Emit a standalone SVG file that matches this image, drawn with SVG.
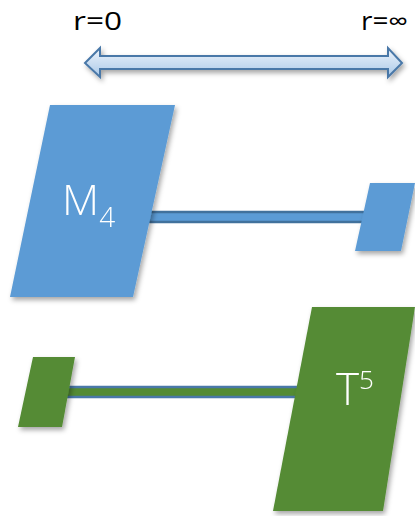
<svg xmlns="http://www.w3.org/2000/svg" width="415" height="516" viewBox="0 0 415 516">
<defs>
<filter id="sh" x="-20%" y="-20%" width="150%" height="150%">
<feDropShadow dx="2" dy="3" stdDeviation="2.5" flood-color="#000" flood-opacity="0.35"/>
</filter>
<linearGradient id="ag" x1="0" y1="0" x2="0" y2="1">
<stop offset="0" stop-color="#eef4fb"/>
<stop offset="1" stop-color="#a9c8e8"/>
</linearGradient>
<style>
.lbl{font-family:"Open Sans","Liberation Sans",sans-serif;font-weight:300;fill:#fff}
.top{font-family:"Open Sans","Liberation Sans",sans-serif;font-size:25px;fill:#000}
.blue{fill:#5b9bd5}
.green{fill:#548b34}
</style>
</defs>
<g id="labels">
<text class="top" x="73" y="30" textLength="49" lengthAdjust="spacingAndGlyphs">r=0</text>
<text class="top" x="361" y="30" textLength="47" lengthAdjust="spacingAndGlyphs">r=∞</text>
</g>
<g id="scale-arrow" filter="url(#sh)">
<polygon points="85,63 100,48 100,56 388,56 388,48 402,63 388,77 388,69 100,69 100,77" fill="url(#ag)" stroke="#4a78a8" stroke-width="2" stroke-linejoin="miter"/>
</g>
<g id="connectors">
<rect x="145" y="212" width="222" height="10" fill="#5b9bd5" stroke="#41719c" stroke-width="2.5"/>
<rect x="65" y="387" width="240" height="10" fill="#548b34" stroke="#4a78a8" stroke-width="2.5"/>
</g>
<g id="M4" filter="url(#sh)">
<polygon class="blue" points="50,105 175,105 133,297 10,297"/>
<text class="lbl" x="62" y="215" font-size="43">M<tspan font-size="28" dy="12">4</tspan></text>
</g>
<g id="M4-small" filter="url(#sh)">
<polygon class="blue" points="370,183 415,183 401,251 355,251"/>
</g>
<g id="T5-small" filter="url(#sh)">
<polygon class="green" points="33,357 75,357 62,427 18,427"/>
</g>
<g id="T5" filter="url(#sh)">
<polygon class="green" points="312,307 415,307 383,511 273,511"/>
<text class="lbl" x="336" y="405" font-size="44">T<tspan font-size="26" dy="-16">5</tspan></text>
</g>
</svg>
